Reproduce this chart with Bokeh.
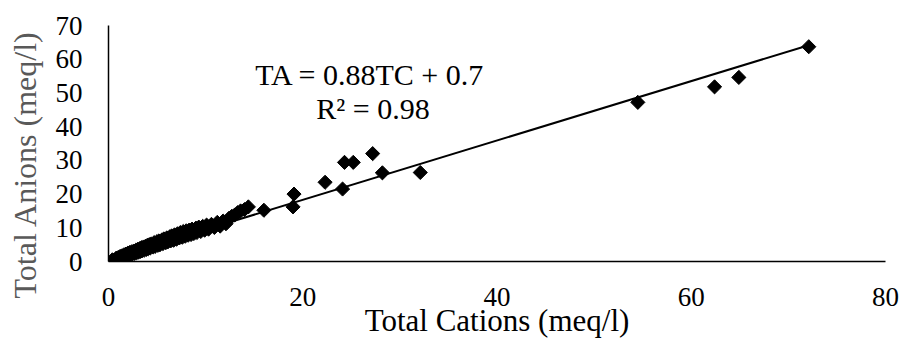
from bokeh.plotting import figure
from bokeh.models import Range1d, FixedTicker, Label
from bokeh.layouts import row
from bokeh.core.properties import value
from bokeh.embed import file_html
from bokeh.resources import INLINE
import numpy as np

# Total cations (x) and total anions (y), meq/l
total_cations = [
    0.4, 0.6, 0.8, 0.9, 1.0, 1.1, 1.2, 1.3, 1.4, 1.5, 1.6, 1.7, 1.8, 1.9, 2.0,
    2.1, 2.2, 2.3, 2.4, 2.5, 2.6, 2.7, 2.8, 2.9, 3.0, 3.1, 3.2, 3.3, 3.4, 3.5,
    3.6, 3.7, 3.8, 3.9, 4.0, 4.1, 4.2, 4.3, 4.4, 4.6, 4.7, 4.8, 5.0, 5.1, 5.2,
    5.3, 5.5, 5.6, 5.7, 5.9, 6.0, 6.1, 6.3, 6.4, 6.5, 6.7, 6.8, 7.0, 7.1, 7.3,
    7.4, 7.6, 7.7, 7.9, 8.0, 8.2, 8.3, 8.5, 8.6, 8.8, 9.0, 9.1, 9.3, 9.5, 9.7,
    9.9, 10.1, 10.3, 10.6, 10.9, 11.2, 11.5, 11.8, 12.1, 12.4, 12.7, 13.0, 13.3,
    13.6, 14.0, 14.4,
    16.0, 19.0, 19.1, 22.3, 24.1, 24.3, 25.2, 27.2, 28.2, 32.1,
    54.5, 62.4, 64.9, 72.1,
]
total_anions = [
    0.5, 0.4, 1.0, 0.7, 1.2, 0.9, 1.5, 1.1, 1.7, 1.3, 2.0, 1.5, 2.2, 1.7, 2.5,
    1.9, 2.7, 2.0, 2.9, 2.3, 3.1, 2.4, 3.3, 2.6, 3.6, 2.8, 3.8, 3.0, 4.1, 3.2,
    4.3, 3.4, 4.5, 3.6, 4.8, 3.8, 5.0, 4.0, 5.2, 4.3, 5.6, 4.5, 5.9, 4.8, 6.1,
    5.0, 6.4, 5.3, 6.7, 5.6, 7.0, 5.8, 7.3, 6.1, 7.6, 6.3, 7.9, 6.6, 8.2, 7.0,
    8.6, 7.2, 8.9, 7.5, 9.1, 7.8, 9.3, 8.0, 9.6, 8.3, 9.9, 8.6, 10.2, 8.9, 10.4,
    9.3, 10.8, 9.6, 11.0, 10.1, 11.6, 10.5, 12.0, 11.2, 12.8, 13.4, 13.8, 14.5,
    15.0, 15.4, 16.2,
    15.2, 16.2, 20.0, 23.5, 21.5, 29.4, 29.4, 32.0, 26.3, 26.4,
    47.2, 51.8, 54.6, 63.7,
]

# Linear trendline shown on the chart: TA = 0.88 TC + 0.7
slope = 0.88
intercept = 0.7
equation_text = "TA = 0.88TC + 0.7"
r2_text = "R\u00b2 = 0.98"
x_title = "Total Cations (meq/l)"
y_title = "Total Anions (meq/l)"

x_ticks = [0, 20, 40, 60, 80]
y_ticks = [0, 10, 20, 30, 40, 50, 60, 70]

FONT = "Liberation Serif"
H = 340
TITLE_W = 50

# ---- narrow strip holding the rotated y-axis title ----
t = figure(width=TITLE_W, height=H, x_range=Range1d(0, TITLE_W),
           y_range=Range1d(0, H), output_backend="svg",
           toolbar_location=None, min_border=0)
t.frame_align = False
t.axis.visible = False
t.grid.visible = False
t.outline_line_color = None
t.background_fill_color = "white"
t.border_fill_color = "white"
t.text(x=[24], y=[H - 164], text=[y_title], angle=np.pi / 2,
       text_font=value(FONT), text_font_size="32px",
       text_align="center", text_baseline="middle", text_color="#595959")

# ---- main chart ----
p = figure(
    width=900 - TITLE_W, height=H,
    x_range=Range1d(0, 80), y_range=Range1d(0, 70),
    output_backend="svg", toolbar_location=None,
    min_border_left=108 - TITLE_W, min_border_right=15,
    min_border_top=25, min_border_bottom=74,
)
p.frame_align = False
p.outline_line_color = None
p.grid.visible = False
p.background_fill_color = "white"
p.border_fill_color = "white"

# trendline
x_min, x_max = min(total_cations), max(total_cations)
tx = np.array([x_min, x_max])
p.line(tx, slope * tx + intercept, line_color="black", line_width=2)

# points (diamonds)
p.scatter(total_cations, total_anions, marker="square", angle=np.pi / 4,
          size=10, fill_color="black", line_color="black")

for ax in (p.xaxis[0], p.yaxis[0]):
    ax.major_tick_line_color = None
    ax.minor_tick_line_color = None
    ax.major_tick_out = 0
    ax.major_tick_in = 0
    ax.axis_line_color = "black"
    ax.axis_line_width = 1.5
    ax.major_label_text_font = FONT
    ax.major_label_text_font_size = "27px"
    ax.major_label_text_color = "black"
    ax.axis_label_text_font = FONT
    ax.axis_label_text_font_style = "normal"

p.xaxis[0].ticker = FixedTicker(ticks=x_ticks)
p.yaxis[0].ticker = FixedTicker(ticks=y_ticks)
p.xaxis[0].major_label_standoff = 26
p.yaxis[0].major_label_standoff = 26

p.xaxis[0].axis_label = x_title
p.xaxis[0].axis_label_text_font_size = "31px"
p.xaxis[0].axis_label_text_color = "black"
p.xaxis[0].axis_label_standoff = -6

p.add_layout(Label(x=15.1, y=55.6, text=equation_text, text_font=FONT,
                   text_font_size="30px", text_align="left",
                   text_baseline="alphabetic", text_color="black"))
p.add_layout(Label(x=21.4, y=45.4, text=r2_text, text_font=FONT,
                   text_font_size="30px", text_align="left",
                   text_baseline="alphabetic", text_color="black"))

layout = row(t, p)
open("out.html", "w").write(file_html(layout, INLINE))
